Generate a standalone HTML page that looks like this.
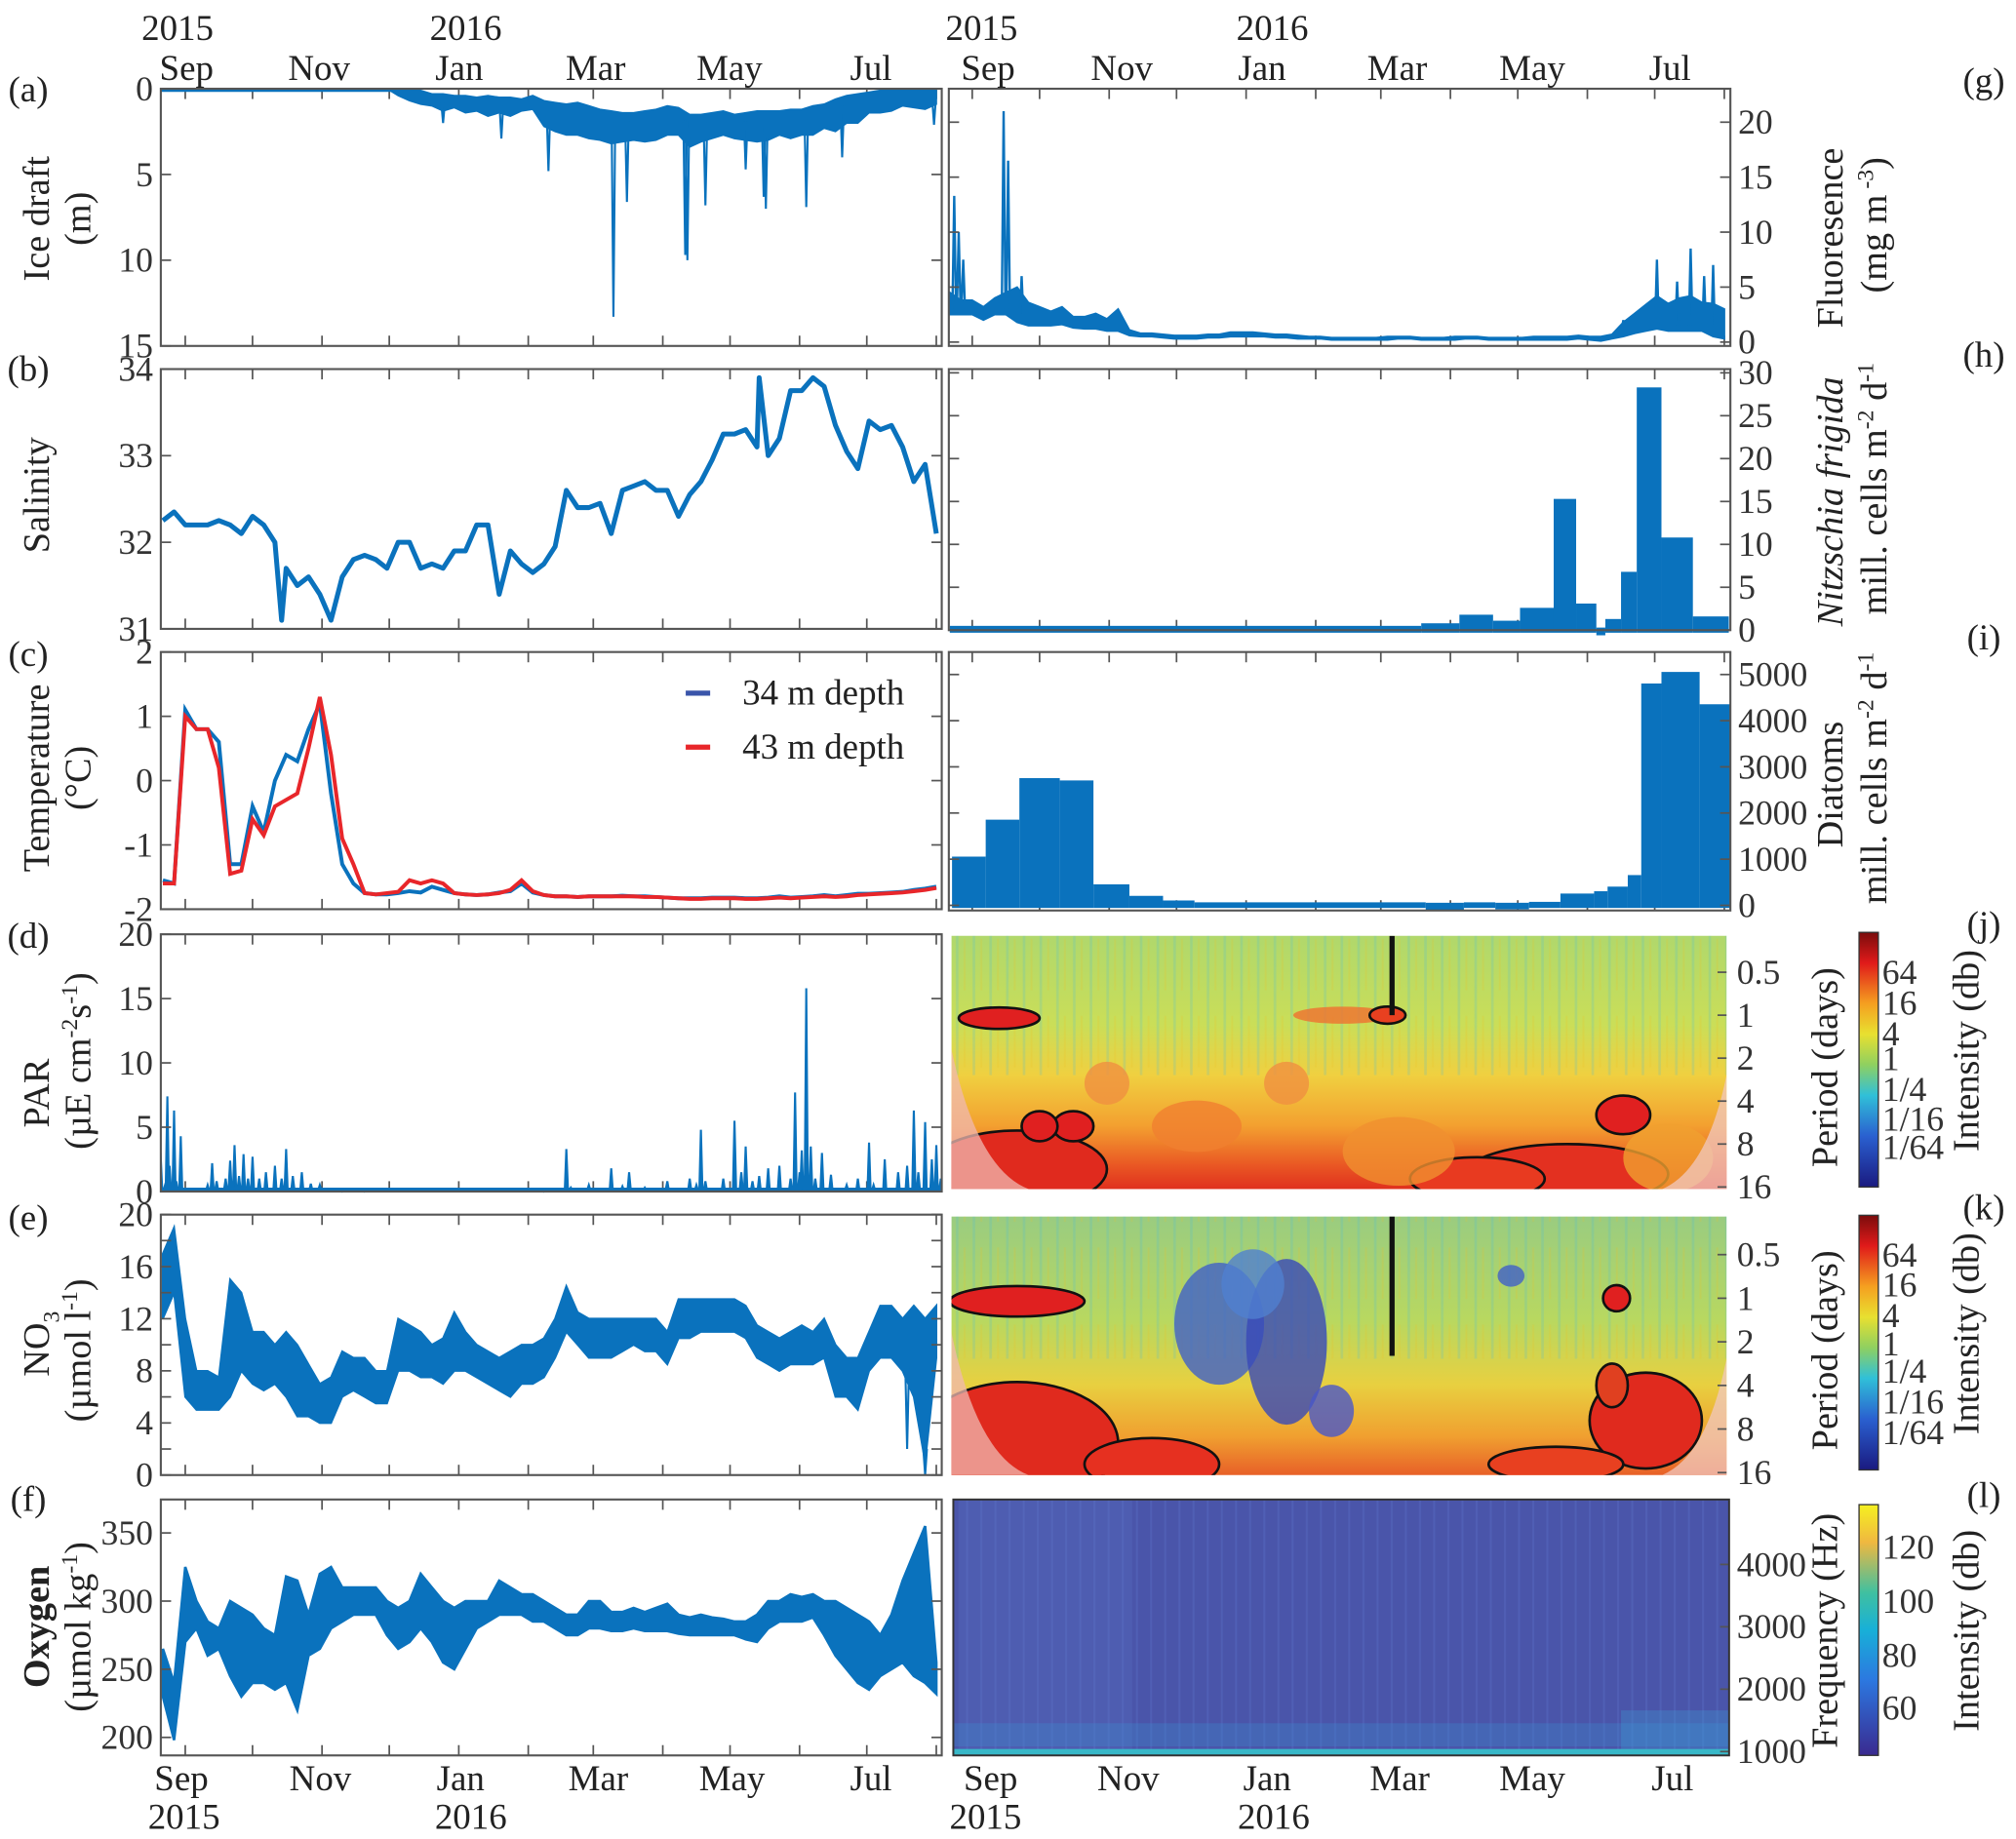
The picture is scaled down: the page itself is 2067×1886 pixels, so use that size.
<!DOCTYPE html>
<html><head><meta charset="utf-8"><style>
html,body{margin:0;padding:0;background:#fff;}
svg{display:block;font-family:"Liberation Serif",serif;}
</style></head><body>
<svg id="fig" width="2067" height="1886" viewBox="0 0 1567 1430" preserveAspectRatio="none" xmlns="http://www.w3.org/2000/svg">
<defs>
<linearGradient id="jetbar" x1="0" y1="0" x2="0" y2="1">
<stop offset="0" stop-color="#7a0c0c"/><stop offset="0.12" stop-color="#e01a1a"/><stop offset="0.28" stop-color="#f5a020"/><stop offset="0.4" stop-color="#e8e030"/><stop offset="0.52" stop-color="#8fd060"/><stop offset="0.64" stop-color="#30c0d8"/><stop offset="0.8" stop-color="#2a60d0"/><stop offset="1" stop-color="#1a1a80"/></linearGradient>
<linearGradient id="parbar" x1="0" y1="0" x2="0" y2="1">
<stop offset="0" stop-color="#f5f020"/><stop offset="0.15" stop-color="#f0b840"/><stop offset="0.35" stop-color="#40c0a0"/><stop offset="0.5" stop-color="#18b0d8"/><stop offset="0.7" stop-color="#2c78e0"/><stop offset="1" stop-color="#3a2a90"/></linearGradient>
<linearGradient id="wj" x1="0" y1="0" x2="0" y2="1">
<stop offset="0" stop-color="#b0d86c"/><stop offset="0.35" stop-color="#cade58"/><stop offset="0.55" stop-color="#f0d040"/><stop offset="0.75" stop-color="#f3a030"/><stop offset="0.9" stop-color="#ea5a24"/><stop offset="1" stop-color="#e0301e"/></linearGradient>
<linearGradient id="wk" x1="0" y1="0" x2="0" y2="1">
<stop offset="0" stop-color="#9acc80"/><stop offset="0.4" stop-color="#b8d860"/><stop offset="0.65" stop-color="#e8d040"/><stop offset="0.85" stop-color="#f0a030"/><stop offset="1" stop-color="#e86028"/></linearGradient>
<pattern id="streaks" width="13" height="60" patternUnits="userSpaceOnUse"><rect x="2" y="0" width="2" height="60" fill="#40b8e0" opacity="0.2"/><rect x="8" y="10" width="1.5" height="40" fill="#f0c020" opacity="0.2"/></pattern>
<pattern id="spstreak" width="11" height="200" patternUnits="userSpaceOnUse"><rect x="3" y="0" width="1.5" height="200" fill="#5c72c8" opacity="0.35"/></pattern>
<clipPath id="cL"><rect x="125" y="60" width="607" height="1320"/></clipPath>
</defs>
<g id="root"></g>
</svg>
<script>
// ---------- data ----------
const days = [-10,-5,0,5,10,15,20,25,30,35,40,45,50,55,60,65,70,75,80,85,90,95,100,105,110,115,120,125,130,135,140,145,150,155,160,165,170,175,180,185,190,195,200,205,210,215,220,225,230,235,240,245,250,255,260,265,270,275,280,285,290,295,300,305,310,315,320,325,330,335];
const monthNames = ["Sep","Nov","Jan","Mar","May","Jul"];
const monthDays = [0,61,122,182,243,304];
const tickDays = [0,30,61,91,122,153,182,213,243,274,304,335];

const iceHi = [0,0,0,0,0,0,0,0,0,0,0,0,0,0,0,0,0,0,0,0,0,
0.4,0.7,0.9,1.0,1.3,1.1,1.4,1.3,1.6,1.4, 1.6,1.3,1.2,2.2,2.5,2.7,2.7,2.9,3.0,3.2, 3.1,3.0,3.1,3.0,2.7,2.7,3.4,3.1,2.9,2.7, 2.9,3.0,3.1,3.0,2.7,2.9,2.7,2.7,2.3,2.5, 2.0,2.0,1.4,1.4,1.3,1.0,1.1,1.2,0.9];
const iceLo = [0,0,0,0,0,0,0,0,0,0,0,0,0,0,0,0,0,0,0,0,0,
0,0,0.1,0.3,0.3,0.4,0.4,0.5,0.4,0.5, 0.5,0.6,0.4,0.7,0.8,0.9,0.8,1.0,1.2,1.3, 1.4,1.4,1.3,1.2,1.0,1.1,1.5,1.5,1.4,1.3, 1.5,1.4,1.3,1.3,1.3,1.2,1.2,1.0,0.9,0.6, 0.4,0.3,0.2,0.1,0.1,0.1,0.1,0.1,0.1];
const iceSpikeDays = [115,141,162,191,197,223,224,232,250,258,259,277,293,334];
const iceSpikeVals = [2.0,2.9,4.8,13.3,6.6,9.7,10.0,6.8,4.7,6.3,7.0,6.9,4.0,2.1];

const salinity = [32.25,32.35,32.2,32.2,32.2,32.25,32.2,32.1,32.3,32.2,
32.0,31.7,31.5,31.6,31.4,31.1,31.6,31.8,31.85,31.8,
31.7,32.0,32.0,31.7,31.75,31.7,31.9,31.9,32.2,32.2,
31.4,31.9,31.75,31.65,31.75,31.95,32.6,32.4,32.4,32.45,
32.1,32.6,32.65,32.7,32.6,32.6,32.3,32.55,32.7,32.95,
33.25,33.25,33.3,33.1,33.0,33.2,33.75,33.75,33.9,33.8,
33.35,33.05,32.85,33.4,33.3,33.35,33.1,32.7,32.9,32.1];
const salSpikeDays = [43,65,256];
const salSpikeVals = [31.1,31.1,33.9];

const temp34 = [-1.55,-1.6,1.1,0.8,0.8,0.6,-1.3,-1.3,-0.4,-0.8,
0.0,0.4,0.3,0.8,1.2,-0.2,-1.3,-1.6,-1.75,-1.77,
-1.77,-1.75,-1.72,-1.74,-1.65,-1.7,-1.75,-1.77,-1.78,-1.77,
-1.74,-1.72,-1.6,-1.74,-1.78,-1.8,-1.8,-1.81,-1.8,-1.8,
-1.8,-1.79,-1.8,-1.8,-1.81,-1.82,-1.83,-1.83,-1.83,-1.82,
-1.82,-1.82,-1.83,-1.83,-1.82,-1.8,-1.82,-1.81,-1.8,-1.78,
-1.8,-1.78,-1.76,-1.76,-1.75,-1.74,-1.73,-1.7,-1.68,-1.65];
const temp43 = [-1.6,-1.6,1.0,0.8,0.8,0.2,-1.45,-1.4,-0.6,-0.85,
-0.4,-0.3,-0.2,0.5,1.3,0.4,-0.9,-1.3,-1.75,-1.77,
-1.75,-1.73,-1.55,-1.6,-1.55,-1.6,-1.75,-1.77,-1.78,-1.77,
-1.75,-1.7,-1.55,-1.72,-1.78,-1.8,-1.8,-1.81,-1.8,-1.8,
-1.8,-1.8,-1.8,-1.81,-1.81,-1.82,-1.83,-1.84,-1.84,-1.83,
-1.83,-1.83,-1.84,-1.84,-1.83,-1.82,-1.83,-1.82,-1.81,-1.8,
-1.81,-1.8,-1.78,-1.77,-1.76,-1.75,-1.74,-1.72,-1.7,-1.67];

const parDays = [-11,-9,-8,-7,-5,-4,-2,0,5,10,12,14,18,20,22,24,26,28,30,33,36,40,43,45,48,52,56,60,65,70,80,160,168,170,172,180,190,195,198,205,215,225,228,230,232,240,245,248,250,253,256,260,265,270,272,274,275,277,279,281,284,288,295,300,305,307,312,318,322,325,327,330,333,335,337];
const parVals = [3.0,0.5,7.4,2.0,6.3,0.8,4.3,0.2,0.1,0.5,2.2,0.8,1.0,2.4,3.6,1.2,2.9,1.0,2.7,1.0,1.5,2.0,1.0,3.3,1.2,1.5,0.6,0.5,0.2,0,0,0,0.2,3.3,0.3,0.5,1.8,0.4,1.5,0.3,0.8,1.0,0.5,4.8,0.8,1.0,5.5,1.5,3.5,0.8,1.2,1.8,2.0,1.0,7.7,1.5,3.2,15.8,3.5,1.0,3.0,1.3,0.5,1.0,3.8,0.5,2.5,1.5,2.0,6.3,1.5,5.4,2.5,3.6,1.0];

const no3Lo = [12,14,6,5,5,5,6,8,7,6.5, 7,6,4.5,4.5,4,4,6,6.5,6,5.5, 5.5,8,8,7.5,7.5,7,8,8,7.5,7, 6.5,6,7,7,7.5,9,11,10,9,9, 9,9.5,10,9.5,9.5,8.5,10.5,10.5,11,11, 11,11,10.5,9,8.5,8,8.5,8.5,8.5,9, 6,6,5,8,9,9,8,6,1,9];
const no3Hi = [17,19,12,8,8,7.5,15,14,11,11, 10,11,10,8.5,7,7.5,9.5,9,9,8, 8,12,11.5,11,10,10.5,12.5,11,10,9.5, 9,9.5,10,10,10.5,12,14.5,12.5,12,12, 12,12,12,12,12,11,13.5,13.5,13.5,13.5, 13.5,13.5,13,11.5,11,10.5,11,11.5,11,12, 10,9,9,11,13,13,12,13,12,13];
const no3SpikeDays = [322,330];
const no3SpikeVals = [2,0];

const oxyLo = [230,198,270,280,260,265,245,230,240,240, 235,240,220,260,265,280,285,290,290,290, 275,265,270,280,270,255,250,265,280,285, 290,290,290,285,285,280,275,275,280,280, 278,278,280,278,278,278,276,275,275,275, 275,275,272,270,280,285,285,285,288,275, 260,250,240,235,245,250,255,245,240,232];
const oxyHi = [265,240,325,300,285,280,300,295,290,280, 275,318,315,290,320,325,310,310,310,310, 300,295,300,320,310,300,295,300,300,300, 315,310,305,305,300,295,290,290,300,300, 292,292,295,292,295,298,290,288,290,288, 287,285,285,290,300,300,305,303,305,300, 300,295,290,285,275,290,315,335,355,255];

const fluLo = [2.5,2.5,2.5,2,2.5,2.5,1.8,1.5,1.5,1.5, 1.6,1.3,1.2,1.2,1.0,1.0,0.6,0.5,0.5,0.4, 0.3,0.3,0.3,0.4,0.4,0.5,0.5,0.5,0.5,0.4, 0.4,0.3,0.3,0.3,0.2,0.2,0.2,0.2,0.2,0.2, 0.3,0.3,0.2,0.2,0.2,0.2,0.3,0.3,0.2,0.2, 0.2,0.2,0.2,0.2,0.2,0.2,0.3,0.2,0.1,0.3, 0.5,0.8,1.0,1.2,1.0,1.0,1.0,1.0,0.5,0.3];
const fluHi = [4.5,3.8,3.8,3.2,4,4.5,5,3.6,3.2,2.8, 3.2,2.3,2.3,2.6,2.1,3.0,1.1,0.8,0.8,0.7, 0.6,0.6,0.6,0.7,0.7,0.9,0.9,0.9,0.8,0.7, 0.7,0.6,0.5,0.5,0.4,0.4,0.4,0.4,0.4,0.5, 0.5,0.5,0.4,0.4,0.4,0.5,0.5,0.5,0.4,0.4, 0.4,0.4,0.5,0.5,0.5,0.5,0.6,0.5,0.5,0.7, 1.8,2.6,3.4,4.2,3.5,4,4.2,3.6,3.5,3];
const fluSpikeDays = [-8,-6,-4,14,16,22,290,305,314,320,326,330];
const fluSpikeVals = [13.3,10,7.5,21,16.5,6,2,7.5,5.5,8.5,6,7];

const nitEdges = [-10,200,217,232,244,259,269,278,282,289,296,307,321,337];
const nitVals = [0.2,0.5,1.5,0.8,2.3,15,2.8,-0.3,1.0,6.5,28,10.5,1.3];

const diaEdges = [-9,6,21,39,54,70,85,99,202,219,233,248,262,277,283,292,298,307,324,338];
const diaVals = [1000,1800,2700,2650,400,150,50,10,-40,10,-30,20,200,250,350,600,4750,5000,4300];

// wavelet features: day, period(days), half-width(days), half-height(octaves)
const jBlobDay = [12,165,185,20,45,30,290,265,225,100,190,310,140,60];
const jBlobPer = [1.05,1.0,1.0,12,6,6,5,13,14,6,9,10,3,3];
const jBlobW = [18,22,8,40,9,8,12,45,30,20,25,20,10,10];
const jBlobH = [0.25,0.2,0.2,0.9,0.35,0.35,0.45,0.7,0.5,0.6,0.8,0.8,0.5,0.5];
const jBlobC = ["#e02020","#f07030","#e84020","#e02a1e","#e02020","#e02020","#e02020","#e33020","#e83a20","#f08030","#f09030","#f0a030","#f09040","#f09040"];
const kBlobDay = [110,140,160,125,20,80,300,20,287,285,260,240];
const kBlobPer = [1.5,2,6,0.8,10,14,7,1.05,1.0,4,14,0.7];
const kBlobW = [20,18,10,14,45,30,25,30,6,7,30,6];
const kBlobH = [1.4,1.9,0.6,0.8,1.4,0.6,1.1,0.35,0.3,0.5,0.4,0.25];
const kBlobC = ["#4060c8","#3848b8","#4a58c8","#5080d0","#e02a1e","#e63020","#e02a1e","#e02020","#e02020","#e04020","#e84020","#4060c8"];

// ---------- helpers ----------
const NS="http://www.w3.org/2000/svg";
const root=document.getElementById('root');
function el(tag,attrs,parent,text){const e=document.createElementNS(NS,tag);for(const k in attrs)e.setAttribute(k,attrs[k]);if(text!==undefined)e.textContent=text;(parent||root).appendChild(e);return e;}
const xL=d=>144+1.7426*d;
const xR=d=>755.7+1.745*d;
const BLUE="#0a72bd", AX="#555", TX="#333";

function frame(name,x0,y0,x1,y1,xf){
  const g=el('g',{}, root);
  
  
  tickDays.forEach(d=>{const x=xf(d);if(x<x0+2||x>x1-2)return;
    el('line',{x1:x,y1:y0,x2:x,y2:y0+8,stroke:AX,'stroke-width':1.3},g);
    el('line',{x1:x,y1:y1,x2:x,y2:y1-8,stroke:AX,'stroke-width':1.3},g);});
  return g;
}
function box(g,x0,y0,x1,y1){el('rect',{x:x0,y:y0,width:x1-x0,height:y1-y0,fill:'none',stroke:AX,'stroke-width':1.6},g);}
function yticks(g,x0,x1,vals,yf,labelSide,labels){
  vals.forEach((v,i)=>{const y=yf(v);
    el('line',{x1:x0,y1:y,x2:x0+8,y2:y,stroke:AX,'stroke-width':1.3},g);
    el('line',{x1:x1,y1:y,x2:x1-8,y2:y,stroke:AX,'stroke-width':1.3},g);
    const lab=labels?labels[i]:String(v);
    if(lab==='')return;
    if(labelSide==='L') el('text',{x:x0-6,y:y+9,'text-anchor':'end','font-size':27,fill:TX},g,lab);
    else el('text',{x:x1+6,y:y+9,'text-anchor':'start','font-size':27,fill:TX},g,lab);
  });
}
function bandPath(lo,hi,xf,yf){let p='';days.forEach((d,i)=>{p+=(i?'L':'M')+xf(d).toFixed(1)+','+yf(hi[i]).toFixed(1);});
  for(let i=days.length-1;i>=0;i--)p+='L'+xf(days[i]).toFixed(1)+','+yf(lo[i]).toFixed(1);return p+'Z';}
function linePath(ds,vs,xf,yf){return ds.map((d,i)=>(i?'L':'M')+xf(d).toFixed(1)+','+yf(vs[i]).toFixed(1)).join('');}
function spikePath(sd,sv,xf,yf,base){let p='';sd.forEach((d,i)=>{const b=base(d);p+='M'+xf(d-0.8).toFixed(1)+','+yf(b).toFixed(1)+'L'+xf(d).toFixed(1)+','+yf(sv[i]).toFixed(1)+'L'+xf(d+0.8).toFixed(1)+','+yf(b).toFixed(1);});return p;}
function interp(arr,d){if(d<=days[0])return arr[0];for(let i=1;i<days.length;i++){if(d<=days[i]){const t=(d-days[i-1])/(days[i]-days[i-1]);return arr[i-1]+t*(arr[i]-arr[i-1]);}}return arr[arr.length-1];}
function merged(sd,sv,base){const pts=days.map((d,i)=>[d,base[i]]).concat(sd.map((d,i)=>[d,sv[i]]));pts.sort((a,b)=>a[0]-b[0]);return [pts.map(p=>p[0]),pts.map(p=>p[1])];}
function txt(name,x,y,s,size,opts){const t=el('text',Object.assign({x:x,y:y,'font-size':size||27,fill:'#222','text-anchor':'middle'},opts||{}),root,s);return t;}
function vtitle(name,x,y,s,size,opts){const t=el('text',Object.assign({transform:`translate(${x},${y}) rotate(-90)`,'font-size':size||29,fill:'#222','text-anchor':'middle'},opts||{}),root);if(typeof s==='string')t.textContent=s;else s.forEach(p=>{el('tspan',p.a||{},t,p.t);});return t;}

const LX0=125,LX1=732,RX0=737.5,RX1=1345;

// ---------- (a) ice draft ----------
{const y0=69,y1=269,yf=v=>y0+v*(200/15);
 const g=frame('panel-a-ice-draft',LX0,y0,LX1,y1,xL);
 el('line',{x1:LX0,y1:y0+1,x2:xL(95),y2:y0+1,stroke:BLUE,'stroke-width':3},g);
 el('path',{d:bandPath(iceLo,iceHi,xL,yf),fill:BLUE,stroke:BLUE,'stroke-width':1.2,'clip-path':'url(#cL)'},g);
 el('path',{d:spikePath(iceSpikeDays,iceSpikeVals,xL,yf,d=>interp(iceLo,d)+0.5),fill:'none',stroke:BLUE,'stroke-width':1.6},g);
 yticks(g,LX0,LX1,[0,5,10,15],yf,'L');box(g,LX0,y0,LX1,y1);}
// ---------- (b) salinity ----------
{const y0=287,y1=489,yf=v=>y0+(34-v)*(202/3);
 const g=frame('panel-b-salinity',LX0,y0,LX1,y1,xL);
 const m=merged(salSpikeDays,salSpikeVals,salinity);
 el('path',{d:linePath(m[0],m[1],xL,yf),fill:'none',stroke:BLUE,'stroke-width':3.8,'stroke-linejoin':'round','clip-path':'url(#cL)'},g);
 yticks(g,LX0,LX1,[31,32,33,34],yf,'L');box(g,LX0,y0,LX1,y1);}
// ---------- (c) temperature ----------
{const y0=507,y1=707,yf=v=>y0+(2-v)*50;
 const g=frame('panel-c-temperature',LX0,y0,LX1,y1,xL);
 el('path',{d:linePath(days,temp34,xL,yf),fill:'none',stroke:BLUE,'stroke-width':3,'clip-path':'url(#cL)'},g);
 el('path',{d:linePath(days,temp43,xL,yf),fill:'none',stroke:'#e8262a','stroke-width':3,'clip-path':'url(#cL)'},g);
 yticks(g,LX0,LX1,[-2,-1,0,1,2],yf,'L');box(g,LX0,y0,LX1,y1);
 const l1=el('line',{x1:533,y1:539,x2:552,y2:539,stroke:'#3a55aa','stroke-width':4},g);
 
 const l2=el('line',{x1:533,y1:581,x2:552,y2:581,stroke:'#e8262a','stroke-width':4},g);
 
 txt('legend-34m-label',577,548,'34 m depth',28,{'text-anchor':'start'});
 txt('legend-43m-label',577,590,'43 m depth',28,{'text-anchor':'start'});}
// ---------- (d) PAR ----------
{const y0=726.5,y1=926.5,yf=v=>y1-v*10;
 const g=frame('panel-d-par',LX0,y0,LX1,y1,xL);
 let p='';parDays.forEach((d,i)=>{p+='M'+xL(d-0.7).toFixed(1)+','+yf(0.1)+'L'+xL(d).toFixed(1)+','+yf(parVals[i]).toFixed(1)+'L'+xL(d+0.7).toFixed(1)+','+yf(0.1);});
 el('line',{x1:LX0,y1:y1-1.5,x2:LX1,y2:y1-1.5,stroke:BLUE,'stroke-width':3},g);
 el('path',{d:p,fill:BLUE,stroke:BLUE,'stroke-width':1.6,'clip-path':'url(#cL)'},g);
 yticks(g,LX0,LX1,[0,5,10,15,20],yf,'L');box(g,LX0,y0,LX1,y1);}
// ---------- (e) NO3 ----------
{const y0=944.5,y1=1147,yf=v=>y1-v*10.13;
 const g=frame('panel-e-nitrate',LX0,y0,LX1,y1,xL);
 el('path',{d:bandPath(no3Lo,no3Hi,xL,yf),fill:BLUE,stroke:BLUE,'stroke-width':1.5,'clip-path':'url(#cL)'},g);
 el('path',{d:spikePath(no3SpikeDays,no3SpikeVals,xL,yf,d=>interp(no3Lo,d)+1),fill:'none',stroke:BLUE,'stroke-width':1.6,'clip-path':'url(#cL)'},g);
 yticks(g,LX0,LX1,[0,2,4,6,8,10,12,14,16,18,20],yf,'L',['0','','4','','8','','12','','16','','20']);box(g,LX0,y0,LX1,y1);}
// ---------- (f) Oxygen ----------
{const y0=1166,y1=1365,yf=v=>1351-(v-200)*1.06;
 const g=frame('panel-f-oxygen',LX0,y0,LX1,y1,xL);
 el('path',{d:bandPath(oxyLo,oxyHi,xL,yf),fill:BLUE,stroke:BLUE,'stroke-width':2,'clip-path':'url(#cL)'},g);
 yticks(g,LX0,LX1,[200,250,300,350],yf,'L');box(g,LX0,y0,LX1,y1);}

// ---------- (g) fluorescence ----------
{const y0=69,y1=269,yf=v=>266-v*8.55;
 const g=frame('panel-g-fluorescence',RX0,y0,RX1,y1,xR);
 el('path',{d:bandPath(fluLo,fluHi,xR,yf),fill:BLUE,stroke:BLUE,'stroke-width':1.4},g);
 el('path',{d:spikePath(fluSpikeDays,fluSpikeVals,xR,yf,d=>interp(fluLo,d)+0.5),fill:'none',stroke:BLUE,'stroke-width':1.8},g);
 yticks(g,RX0,RX1,[0,5,10,15,20],yf,'R');box(g,RX0,y0,RX1,y1);}
// ---------- (h) Nitzschia ----------
{const y0=287,y1=490,yf=v=>y1-v*6.67;
 const g=frame('panel-h-nitzschia',RX0,y0,RX1,y1,xR);
 nitVals.forEach((v,i)=>{const xa=xR(nitEdges[i]),xb=xR(nitEdges[i+1]);
   const r=el('rect',{x:xa,y:Math.min(yf(v),yf(0))-2,width:xb-xa,height:Math.abs(yf(0)-yf(v))+4,fill:BLUE},g);
   });
 yticks(g,RX0,RX1,[0,5,10,15,20,25,30],yf,'R');box(g,RX0,y0,RX1,y1);}
// ---------- (i) Diatoms ----------
{const y0=507,y1=708,yf=v=>704-v*0.0359;
 const g=frame('panel-i-diatoms',RX0,y0,RX1,y1,xR);
 diaVals.forEach((v,i)=>{const xa=xR(diaEdges[i]),xb=xR(diaEdges[i+1]);
   const r=el('rect',{x:xa,y:Math.min(yf(v),yf(0))-2,width:xb-xa,height:Math.abs(yf(0)-yf(v))+4,fill:BLUE},g);
   });
 yticks(g,RX0,RX1,[0,1000,2000,3000,4000,5000],yf,'R');box(g,RX0,y0,RX1,y1);}

// ---------- wavelets ----------
function wavelet(name,y0,y1,grad,bd,bp,bw,bh,bc,blackTo,perTop,perStep){
 const g=el('g',{},root);
 const x0=739.6,x1=1342;const perY=p=>perTop+(Math.log2(p)+1)*perStep;
 el('rect',{x:x0,y:y0,width:x1-x0,height:y1-y0,fill:`url(#${grad})`},g);
 el('rect',{x:x0,y:y0,width:x1-x0,height:(y1-y0)*0.55,fill:'url(#streaks)'},g);
 const cp='wc'+name;const c=el('clipPath',{id:cp},g);el('rect',{x:x0,y:y0,width:x1-x0,height:y1-y0},c);
 const bl=el('g',{'clip-path':`url(#${cp})`},g);
 bd.forEach((d,i)=>{const cx=xR(d),cy=perY(bp[i]);const rx=bw[i]*1.745,ry=bh[i]*perStep;
   const isRed=/^#e[0-8]/.test(bc[i]);
   const e=el('ellipse',{cx:cx,cy:cy,rx:rx,ry:ry,fill:bc[i],'fill-opacity':isRed?1:0.8,stroke:isRed?'#111':'none','stroke-width':2},bl);
   });
 el('line',{x1:xR(187),y1:y0,x2:xR(187),y2:perY(blackTo),stroke:'#111','stroke-width':4},bl);
 el('path',{d:`M${x0},${y0+(y1-y0)*0.45} Q${x0+20},${y1-15} ${x0+60},${y1} L${x0},${y1}Z`,fill:'#f0b8b0','fill-opacity':0.75},bl);
 el('path',{d:`M${x1},${y0+(y1-y0)*0.55} Q${x1-15},${y1-15} ${x1-50},${y1} L${x1},${y1}Z`,fill:'#f0c8c0','fill-opacity':0.75},bl);
 [0.5,1,2,4,8,16].forEach(p=>{const y=perY(p);el('line',{x1:x1,y1:y,x2:x1-7,y2:y,stroke:AX,'stroke-width':1.3},g);
   el('text',{x:1350,y:y+9,'font-size':27,fill:TX},g,String(p));});
 return g;}
wavelet('panel-j-par-wavelet',727.7,924.6,'wj',jBlobDay,jBlobPer,jBlobW,jBlobH,jBlobC,1,756,33.4);
wavelet('panel-k-nitrate-wavelet',946,1147,'wk',kBlobDay,kBlobPer,kBlobW,kBlobH,kBlobC,2.5,975.6,33.9);

// ---------- (l) spectrogram ----------
{const g=el('g',{},root);
 el('rect',{x:741,y:1166,width:603,height:199,fill:'#4a55aa'},g);
 el('rect',{x:741,y:1166,width:603,height:199,fill:'url(#spstreak)'},g);
 el('rect',{x:745,y:1166,width:135,height:199,fill:'#5a78c8','fill-opacity':0.25},g);
 el('rect',{x:741,y:1340,width:603,height:18,fill:'#3a8ed0','fill-opacity':0.3},g);
 el('rect',{x:1260,y:1330,width:84,height:30,fill:'#3aa0d8','fill-opacity':0.3},g);
 el('rect',{x:741,y:1360,width:603,height:5,fill:'#38b8c8'},g);
 const yf=v=>1362-(v-1000)*0.0485;
 [1000,2000,3000,4000].forEach(v=>{const y=yf(v);el('line',{x1:1344,y1:y,x2:1337,y2:y,stroke:AX,'stroke-width':1.3},g);
   el('text',{x:1350,y:y+9,'font-size':27,fill:TX},g,String(v));});
 el('rect',{x:741,y:1166,width:603,height:199,fill:'none',stroke:'#333','stroke-width':1.5},g);}

// ---------- colorbars ----------
function cbar(name,y0,y1,grad,labels,ys){const g=el('g',{},root);
 el('rect',{x:1445,y:y0,width:15,height:y1-y0,fill:`url(#${grad})`,stroke:'#333','stroke-width':1},g);
 labels.forEach((l,i)=>el('text',{x:1463,y:ys[i]+9,'font-size':27,fill:TX},g,l));}
cbar('colorbar-j',725,923,'jetbar',['64','16','4','1','1/4','1/16','1/64'],[756,780,804,823,847,870,892]);
cbar('colorbar-k',945,1143,'jetbar',['64','16','4','1','1/4','1/16','1/64'],[976,999,1023,1045,1066,1090,1114]);
cbar('colorbar-l',1170,1365,'parbar',['120','100','80','60'],[1203,1245,1287,1328]);

// ---------- axis date labels ----------
const topL=[145,248,357,463,567,677], topR=[768,872,981,1086,1191,1298];
const botL=[141,249,358,465,569,677], botR=[770,877,985,1088,1191,1300];
monthNames.forEach((m,i)=>{txt('top-month-left',topL[i],62,m,28);txt('top-month-right',topR[i],62,m,28);
 txt('bottom-month-left',botL[i],1392,m,28);txt('bottom-month-right',botR[i],1392,m,28);});
txt('top-year-left-2015',138,31,'2015',28);txt('top-year-left-2016',362,31,'2016',28);
txt('top-year-right-2015',763,31,'2015',28);txt('top-year-right-2016',989,31,'2016',28);
txt('bottom-year-left-2015',143,1422,'2015',28);txt('bottom-year-left-2016',366,1422,'2016',28);
txt('bottom-year-right-2015',766,1422,'2015',28);txt('bottom-year-right-2016',990,1422,'2016',28);

// ---------- panel letters ----------
[['(a)',69],['(b)',286],['(c)',508],['(d)',727],['(e)',946],['(f)',1165]].forEach(p=>txt('panel-letter',22,p[1]+10,p[0],28));
[['(g)',62],['(h)',275],['(i)',495],['(j)',718],['(k)',938],['(l)',1162]].forEach(p=>txt('panel-letter',1542,p[1]+10,p[0],28));

// ---------- axis titles ----------
vtitle('y-title-ice',38,170,'Ice draft');vtitle('y-title-ice-unit',70,170,'(m)');
vtitle('y-title-salinity',38,385,'Salinity');
vtitle('y-title-temperature',38,605,'Temperature');vtitle('y-title-temp-unit',70,605,'(°C)');
vtitle('y-title-par',38,850,'PAR');
vtitle('y-title-par-unit',70,825,[{t:'(µE cm'},{t:'-2',a:{dy:-10,'font-size':18}},{t:'s',a:{dy:10}},{t:'-1',a:{dy:-10,'font-size':18}},{t:')',a:{dy:10}}]);
vtitle('y-title-no3',38,1045,[{t:'NO'},{t:'3',a:{dy:8,'font-size':18}}]);
vtitle('y-title-no3-unit',70,1050,[{t:'(µmol l'},{t:'-1',a:{dy:-10,'font-size':18}},{t:')',a:{dy:10}}]);
vtitle('y-title-oxygen',38,1265,'Oxygen',29,{'font-weight':'bold'});
vtitle('y-title-oxygen-unit',70,1265,[{t:'(µmol kg'},{t:'-1',a:{dy:-10,'font-size':18}},{t:')',a:{dy:10}}]);
vtitle('y-title-fluorescence',1432,185,'Fluoresence');
vtitle('y-title-flu-unit',1466,175,[{t:'(mg  m'},{t:' -3',a:{dy:-10,'font-size':18}},{t:')',a:{dy:10}}]);
vtitle('y-title-nitzschia',1432,390,'Nitzschia frigida',29,{'font-style':'italic'});
vtitle('y-title-nitzschia-unit',1466,380,[{t:'mill. cells m'},{t:'-2',a:{dy:-10,'font-size':18}},{t:' d',a:{dy:10}},{t:'-1',a:{dy:-10,'font-size':18}}]);
vtitle('y-title-diatoms',1432,610,'Diatoms');
vtitle('y-title-diatoms-unit',1466,605,[{t:'mill. cells m'},{t:'-2',a:{dy:-10,'font-size':18}},{t:' d',a:{dy:10}},{t:'-1',a:{dy:-10,'font-size':18}}]);
vtitle('y-title-period-j',1428,830,'Period (days)');vtitle('y-title-intensity-j',1538,817,'Intensity (db)');
vtitle('y-title-period-k',1428,1050,'Period (days)');vtitle('y-title-intensity-k',1538,1037,'Intensity (db)');
vtitle('y-title-frequency',1428,1268,'Frequency (Hz)');vtitle('y-title-intensity-l',1538,1268,'Intensity (db)');
</script>
</body></html>
